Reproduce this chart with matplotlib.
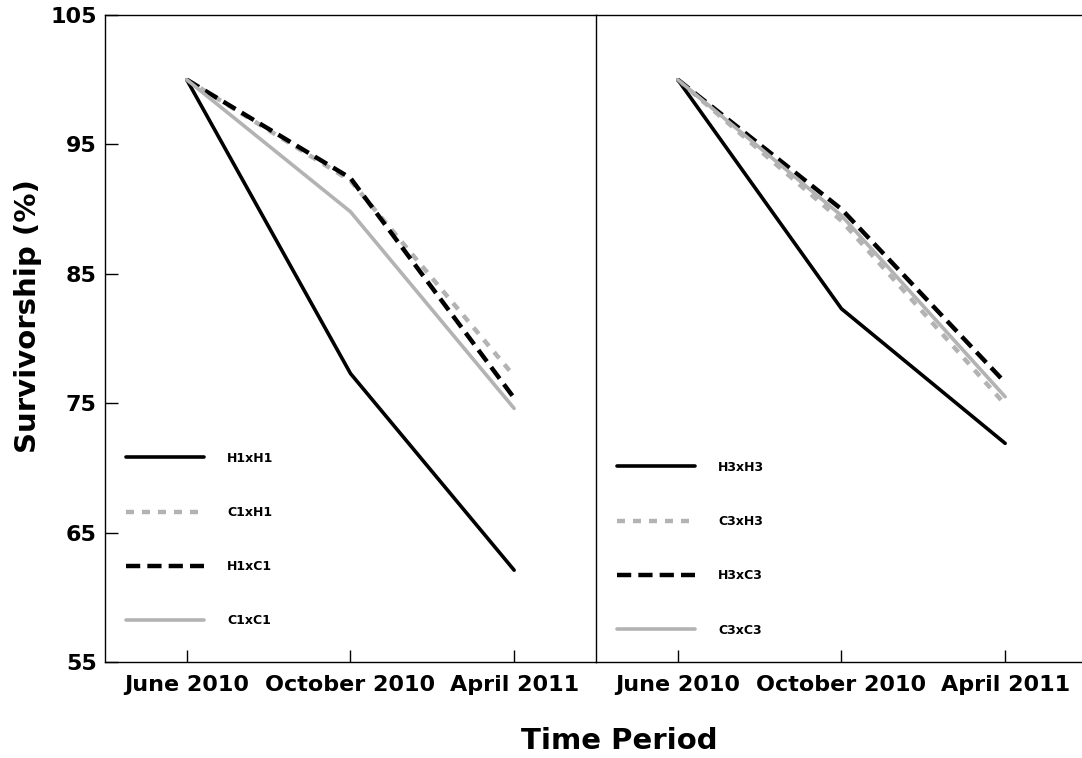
import matplotlib
matplotlib.use('Agg')
import matplotlib.pyplot as plt
import numpy as np

plt.rcParams['font.family'] = ['DejaVu Sans']
plt.rcParams['font.weight'] = 'bold'

periods = ['June 2010', 'October 2010', 'April 2011']

# left panel (1)
h1xh1 = [100, 77.3, 62.1]
c1xh1 = [100, 92.2, 77.1]
h1xc1 = [100, 92.4, 75.4]
c1xc1 = [100, 89.8, 74.6]

# right panel (3)
h3xh3 = [100, 82.3, 71.9]
c3xh3 = [100, 89.1, 74.9]
h3xc3 = [100, 90.0, 76.6]
c3xc3 = [100, 89.5, 75.5]

yticks = [55, 65, 75, 85, 95, 105]

gray = '#b3b3b3'
fig = plt.figure(figsize=(10.82, 7.58), dpi=100)
ax1 = fig.add_axes([0.097, 0.1266, 0.4538, 0.8536])
ax2 = fig.add_axes([0.5508, 0.1266, 0.4538, 0.8536])

x = np.arange(len(periods))

def draw(ax, s1, s2, s3, s4, names, legy):
    ax.plot(x, s1, color='black', lw=2.6, ls='-', label=names[0], solid_capstyle='round')
    ax.plot(x, s2, color=gray, lw=3.2, ls=(0, (1.8, 1.8)), label=names[1])
    ax.plot(x, s3, color='black', lw=3.2, ls=(0, (3.2, 1.6)), label=names[2])
    ax.plot(x, s4, color=gray, lw=2.6, ls='-', label=names[3], solid_capstyle='round')
    ax.set_xlim(-0.5, 2.5)
    ax.set_ylim(55, 105)
    ax.set_xticks(x)
    ax.set_xticklabels(periods, fontsize=16, fontweight='bold')
    ax.tick_params(axis='x', direction='in', length=9, width=1, pad=9)
    ax.spines['right'].set_visible(False)
    for s in ax.spines.values():
        s.set_linewidth(1)
    ax.legend(loc='lower left', bbox_to_anchor=(0.02, legy), frameon=False,
              handlelength=6.2, handletextpad=1.9, labelspacing=3.3,
              prop={'size': 9, 'weight': 'bold'})

draw(ax1, h1xh1, c1xh1, h1xc1, c1xc1, ['H1xH1', 'C1xH1', 'H1xC1', 'C1xC1'], 0.036)
draw(ax2, h3xh3, c3xh3, h3xc3, c3xc3, ['H3xH3', 'C3xH3', 'H3xC3', 'C3xC3'], 0.022)

ax1.set_yticks(yticks)
ax1.set_yticklabels([str(v) for v in yticks], fontsize=16, fontweight='bold')
ax1.tick_params(axis='y', direction='in', length=9, width=1, pad=6)
ax1.set_ylabel('Survivorship (%)', fontsize=21, fontweight='bold')
ax1.yaxis.set_label_coords(-0.128, 0.535)

ax2.set_yticks([])

fig.text(0.572, 0.004, 'Time Period', ha='center', va='bottom', fontsize=21, fontweight='bold')

fig.savefig('out.png', dpi=100)
